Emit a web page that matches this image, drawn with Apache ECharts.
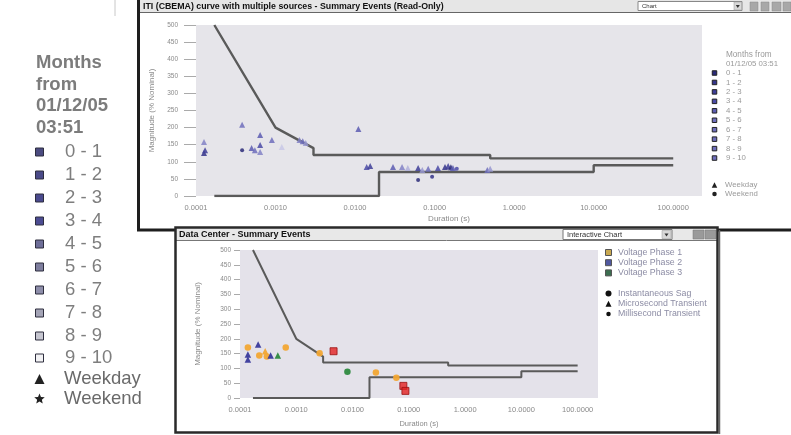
<!DOCTYPE html>
<html><head><meta charset="utf-8">
<script src="https://cdn.jsdelivr.net/npm/echarts@6/dist/echarts.min.js"></script>
<style>html,body{margin:0;padding:0;background:#fff}#c{width:791px;height:435px}</style>
</head><body><div id="c"></div>
<script>
// ---------- data ----------
const monthLabels = ['0 - 1','1 - 2','2 - 3','3 - 4','4 - 5','5 - 6','6 - 7','7 - 8','8 - 9','9 - 10'];
const monthIconColors = ['#4b4b80','#4a4a88','#4a4a8e','#4c4c92','#6e6e98','#7e7e9e','#8e8eaa','#a4a4b6','#c6c6d0','#f2f2f4'];
const monthPointColors = ['#2a2a78','#34348a','#3e3e98','#4a4aa6','#5c5cb2','#6e6ebc','#8282c6','#9898d0','#b0b0da','#c8c8e6'];
const dayTypes = ['Weekday','Weekend'];
const durationTicks = [0.0001,0.001,0.01,0.1,1,10,100];
const durationTickLabels = ['0.0001','0.0010','0.0100','0.1000','1.0000','10.0000','100.0000'];
const iticUpper = [[0.00017,500],[0.001,200],[0.003,140],[0.003,120],[0.5,120],[0.5,110],[100,110]];
const iticLower = [[0.00017,0],[0.02,0],[0.02,70],[10,70],[10,90],[100,90]];
// [duration s, magnitude %, month index, day type index]
const topEvents = [
  [0.000126,158,6,0],[0.000126,126,1,0],[0.00013,134,2,0],
  [0.00038,208,5,0],[0.00038,134,0,1],[0.0005,140,4,0],[0.00055,134,5,0],
  [0.00064,178,4,0],[0.00064,149,3,0],[0.00064,129,6,0],
  [0.0009,164,5,0],[0.0012,143,9,0],[0.002,164,6,0],[0.0022,160,5,0],[0.0024,155,7,0],
  [0.011,196,4,0],[0.014,85,3,0],[0.0155,88,2,0],
  [0.030,85,4,0],[0.039,85,6,0],[0.046,82,8,0],[0.062,82,2,0],[0.062,47,0,1],
  [0.07,76,7,0],[0.083,80,5,0],[0.093,56,1,1],[0.11,82,3,0],[0.135,85,1,0],
  [0.148,88,2,0],[0.16,84,0,0],[0.17,82,4,0],[0.19,80,3,1],
  [0.46,76,5,0],[0.50,80,7,0]
];
const phaseNames = ['Voltage Phase 1','Voltage Phase 2','Voltage Phase 3'];
const phaseColors = ['#f2a634','#3a3a9c','#2e8a40'];
const phaseIconColors = ['#c8a850','#5058a0','#3c6e50'];
const eventTypes = ['Instantaneous Sag','Microsecond Transient','Millisecond Transient'];
const eventSymbols = ['circle','triangle','diamond'];
// [duration s, magnitude %, phase index, event type index]
const bottomEvents = [
  [0.000138,171,0,0],[0.000138,147,1,1],[0.000138,130,1,1],
  [0.00021,181,1,1],[0.00022,144,0,0],[0.00028,158,0,1],[0.0003,140,0,0],
  [0.00035,144,1,1],[0.00047,144,2,1],[0.00065,171,0,0],
  [0.0026,151,0,0],[0.0081,89,2,0],[0.026,86,0,0],[0.060,68,0,0]
];
const flaggedEvents = [[0.0046,158],[0.080,41],[0.087,24]];

// ---------- helpers ----------
const FONT = '"Liberation Sans", Arial, Helvetica, sans-serif';
function durLabel(v){
  const e = Math.log10(v), r = Math.round(e);
  if (Math.abs(e - r) > 1e-6) return '';
  const i = durationTicks.findIndex(t => Math.abs(Math.log10(t) - r) < 1e-6);
  return i < 0 ? '' : durationTickLabels[i];
}
function xAxisCfg(gi, gap, fs, nfs){
  return {type:'log', logBase:10, gridIndex:gi, min:0.0001, max:230,
    name:'Duration (s)', nameLocation:'middle', nameGap:gap,
    nameTextStyle:{fontSize:nfs, color:'#8a8a8a', fontFamily:FONT},
    axisLine:{show:false}, axisTick:{show:false}, splitLine:{show:false}, minorTick:{show:false},
    axisLabel:{formatter:durLabel, fontSize:fs, color:'#8a8a8a', fontFamily:FONT, margin:8, showMaxLabel:false, hideOverlap:false}};
}
function yAxisCfg(gi, gap, tickLen, margin){
  return {type:'value', gridIndex:gi, min:0, max:500, interval:50,
    name:'Magnitude (% Nominal)', nameLocation:'middle', nameGap:gap, nameRotate:90,
    nameTextStyle:{fontSize:8, color:'#8a8a8a', fontFamily:FONT},
    axisLine:{show:false}, splitLine:{show:false},
    axisTick:{show:true, length:tickLen, lineStyle:{color:'#aaaaaa'}},
    axisLabel:{fontSize:6.5, color:'#8a8a8a', fontFamily:FONT, margin:margin}};
}
function starPoints(cx, cy, R, r){
  const pts=[];
  for(let i=0;i<10;i++){const a=-Math.PI/2+i*Math.PI/5; const rr=i%2?r:R; pts.push([cx+rr*Math.cos(a), cy+rr*Math.sin(a)]);}
  return pts;
}
function iconGraphic(kind, cx, cy, s, fill, stroke){
  const h=s/2;
  if(kind==='rect') return {type:'rect', z:120, shape:{x:cx-h,y:cy-h,width:s,height:s}, style:{fill:fill, stroke:stroke||null, lineWidth:stroke?1:0}};
  if(kind==='triangle') return {type:'polygon', z:120, shape:{points:[[cx,cy-h],[cx+h,cy+h],[cx-h,cy+h]]}, style:{fill:fill}};
  if(kind==='star') return {type:'polygon', z:120, shape:{points:starPoints(cx,cy,h,h*0.45)}, style:{fill:fill}};
  if(kind==='diamond') return {type:'polygon', z:120, shape:{points:[[cx,cy-h],[cx+h*0.8,cy],[cx,cy+h],[cx-h*0.8,cy]]}, style:{fill:fill}};
  return {type:'circle', z:120, shape:{cx:cx,cy:cy,r:h}, style:{fill:fill}};
}
function txt(x, y, s, fs, color, weight, align){
  return {type:'text', z:120, x:x, y:y, style:{text:s, fontSize:fs, fill:color, fontFamily:FONT, fontWeight:weight||'normal', align:align||'left', verticalAlign:'middle'}};
}

// ---------- graphic: windows & legends ----------
const g = [];
// stray mark top-left
g.push({type:'line', z:100, shape:{x1:115,y1:0,x2:115,y2:16}, style:{stroke:'#c8c8c8', lineWidth:1}});
// top window
g.push({type:'rect', z:100, shape:{x:139,y:0,width:660,height:12}, style:{fill:'#e6e6e6'}});
g.push({type:'line', z:101, shape:{x1:139,y1:12.5,x2:791,y2:12.5}, style:{stroke:'#666', lineWidth:1}});
g.push({type:'polyline', z:102, shape:{points:[[138.5,0],[138.5,230],[176,230]]}, style:{stroke:'#1e1e1e', lineWidth:3, fill:null}});
g.push({type:'line', z:102, shape:{x1:717,y1:230,x2:791,y2:230}, style:{stroke:'#1e1e1e', lineWidth:3}});
g.push(txt(143, 6.5, 'ITI (CBEMA) curve with multiple sources - Summary Events (Read-Only)', 8.8, '#111', 'bold'));
g.push({type:'rect', z:101, shape:{x:638,y:1.5,width:104,height:9}, style:{fill:'#fff', stroke:'#888', lineWidth:1}});
g.push(txt(642, 6.2, 'Chart', 6, '#333'));
g.push({type:'rect', z:102, shape:{x:734,y:2,width:7.5,height:8}, style:{fill:'#d8d8d8', stroke:'#999', lineWidth:0.5}});
g.push({type:'polygon', z:103, shape:{points:[[735.8,5],[739.8,5],[737.8,8]]}, style:{fill:'#333'}});
[[750,8],[761,8],[772,9],[783,8]].forEach(b=>g.push({type:'rect', z:101, shape:{x:b[0],y:2,width:b[1],height:9}, style:{fill:'#a8a8a8', stroke:'#888', lineWidth:0.5}}));
// bottom window
g.push({type:'rect', z:100, shape:{x:176,y:228,width:541,height:12}, style:{fill:'#e8e8e8'}});
g.push({type:'line', z:101, shape:{x1:176,y1:240.5,x2:717,y2:240.5}, style:{stroke:'#777', lineWidth:1}});
g.push({type:'rect', z:102, shape:{x:175.5,y:227.5,width:542,height:205}, style:{fill:null, stroke:'#2a2a2a', lineWidth:2.5}});
g.push({type:'line', z:102, shape:{x1:719.5,y1:230,x2:719.5,y2:434}, style:{stroke:'#666', lineWidth:1.5}});
g.push(txt(179, 234.5, 'Data Center - Summary Events', 9, '#111', 'bold'));
g.push({type:'rect', z:101, shape:{x:563,y:229.5,width:109,height:10}, style:{fill:'#fff', stroke:'#777', lineWidth:1}});
g.push(txt(567, 234.8, 'Interactive Chart', 7.5, '#333'));
g.push({type:'rect', z:102, shape:{x:662,y:230.5,width:9,height:8}, style:{fill:'#d8d8d8', stroke:'#999', lineWidth:0.5}});
g.push({type:'polygon', z:103, shape:{points:[[664.5,233.5],[668.5,233.5],[666.5,236.5]]}, style:{fill:'#333'}});
g.push({type:'rect', z:101, shape:{x:693,y:230,width:11,height:9}, style:{fill:'#9a9a9a', stroke:'#777', lineWidth:0.5}});
g.push({type:'rect', z:101, shape:{x:705,y:230,width:11,height:9}, style:{fill:'#9a9a9a', stroke:'#777', lineWidth:0.5}});

// left big legend
['Months','from','01/12/05','03:51'].forEach((s,i)=>g.push(txt(36, 63+i*21.5, s, 18.5, '#7c7c7c', 'bold')));
const bigRows = [152,175,198,221,244,267,290,313,336,358];
monthLabels.forEach((m,i)=>{
  g.push(iconGraphic('rect', 39.5, bigRows[i], 8, monthIconColors[i], '#2e2e3e'));
  g.push(txt(65, bigRows[i], m, 18.5, '#7e7e7e'));
});
g.push(iconGraphic('triangle', 39.5, 379, 10, '#222'));
g.push(txt(64, 379, dayTypes[0], 18.5, '#6a6a6a'));
g.push(iconGraphic('star', 39.5, 399, 11, '#222'));
g.push(txt(64, 399, dayTypes[1], 18.5, '#6a6a6a'));

// top small legend
g.push(txt(726, 55, 'Months from', 8.2, '#9a9a9a'));
g.push(txt(726, 63.5, '01/12/05 03:51', 7.8, '#9a9a9a'));
monthLabels.forEach((m,i)=>{
  const y = 73 + i*9.45;
  g.push(iconGraphic('rect', 714.5, y, 4.5, monthPointColors[Math.min(i,5)], '#222'));
  g.push(txt(726, y, m, 7.8, '#9a9a9a'));
});
g.push(iconGraphic('triangle', 714.5, 185, 5.5, '#222'));
g.push(txt(725, 185, dayTypes[0], 7.8, '#9a9a9a'));
g.push(iconGraphic('circle', 714.5, 194, 4.5, '#222'));
g.push(txt(725, 194, dayTypes[1], 7.8, '#9a9a9a'));

// bottom legend
phaseNames.forEach((p,i)=>{
  const y = 252.5 + i*10.2;
  g.push(iconGraphic('rect', 608.5, y, 6, phaseIconColors[i], '#555'));
  g.push(txt(618, y, p, 8.8, '#8c8ca4'));
});
eventTypes.forEach((t,i)=>{
  const y = 293.5 + i*10.2;
  g.push(iconGraphic(eventSymbols[i]==='diamond'?'circle':eventSymbols[i], 608.5, y, i===2?4.5:6, '#111'));
  g.push(txt(618, y, t, 8.8, '#8c8ca4'));
});

// ---------- series ----------
const topScatter = topEvents.map(e => ({
  value:[e[0], e[1]],
  symbol: e[3]===0 ? 'triangle' : 'circle',
  symbolSize: e[3]===0 ? 6 : 4,
  itemStyle:{color: monthPointColors[e[2]], opacity:0.85}
}));
const phaseSeries = phaseNames.map((p,pi)=>({
  name:p, type:'scatter', xAxisIndex:1, yAxisIndex:1, z:5,
  data: bottomEvents.filter(e=>e[2]===pi).map(e=>({value:[e[0],e[1]], symbol:eventSymbols[e[3]], symbolSize: e[3]===2?5:6.5})),
  itemStyle:{color:phaseColors[pi], opacity:0.95}
}));
const curveStyle = (w)=>({color:'#5a5a5a', width:w});

const option = {
  backgroundColor:'#ffffff',
  animation:false,
  grid:[
    {left:196, right:89, top:25, bottom:239, show:true, backgroundColor:'#e6e5ea', borderWidth:0, outerBoundsMode:'none'},
    {left:240, right:193, top:250, bottom:37, show:true, backgroundColor:'#e4e2ea', borderWidth:0, outerBoundsMode:'none'}
  ],
  xAxis:[ xAxisCfg(0, 19, 7.5, 8), xAxisCfg(1, 22, 7.5, 7.5) ],
  yAxis:[ yAxisCfg(0, 36, 12, 18), yAxisCfg(1, 38, 6, 9) ],
  series:[
    {type:'line', xAxisIndex:0, yAxisIndex:0, data:iticUpper, symbol:'none', silent:true, lineStyle:curveStyle(2.4), z:3},
    {type:'line', xAxisIndex:0, yAxisIndex:0, data:iticLower, symbol:'none', silent:true, lineStyle:curveStyle(2.4), z:3},
    {type:'scatter', name:'Events', xAxisIndex:0, yAxisIndex:0, data:topScatter, z:5},
    {type:'line', xAxisIndex:1, yAxisIndex:1, data:iticUpper, symbol:'none', silent:true, lineStyle:curveStyle(2), z:3},
    {type:'line', xAxisIndex:1, yAxisIndex:1, data:iticLower, symbol:'none', silent:true, lineStyle:curveStyle(2), z:3},
    ...phaseSeries,
    {type:'scatter', name:'Flagged', xAxisIndex:1, yAxisIndex:1, data:flaggedEvents, symbol:'rect', symbolSize:7,
      itemStyle:{color:'#e42222', borderColor:'#9a1010', borderWidth:1}, z:6}
  ],
  graphic:{elements:g}
};
const chart = echarts.init(document.getElementById('c'));
chart.setOption(option);
</script></body></html>
